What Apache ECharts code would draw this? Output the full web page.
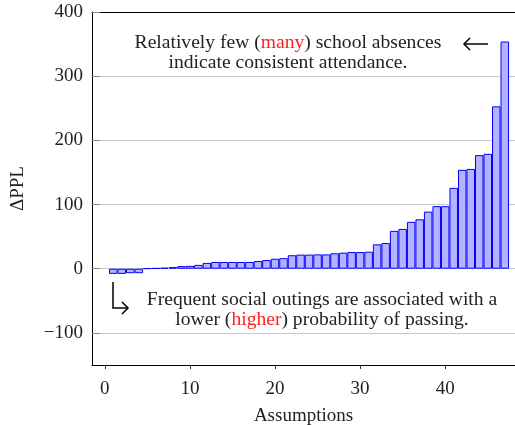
<!DOCTYPE html>
<html>
<head>
<meta charset="utf-8">
<script src="https://cdn.jsdelivr.net/npm/echarts@6/dist/echarts.min.js"></script>
<style>html,body{margin:0;padding:0;background:#fff}#c{width:515px;height:425px}</style>
</head>
<body>
<div id="c"></div>
<script>
const assumptions = [1,2,3,4,5,6,7,8,9,10,11,12,13,14,15,16,17,18,19,20,21,22,23,24,25,26,27,28,29,30,31,32,33,34,35,36,37,38,39,40,41,42,43,44,45,46,47];
const deltaPPL = [-8,-8,-7,-7,0.5,1,1.5,2.5,4,4.5,6,9,10.5,10.5,10.5,10.5,10.5,12,13.5,15.5,16.5,21,22,22,22.3,22.3,24,25,26,26,26.5,38,40,59,62,73,77,89,97.5,97.5,126,154,155.5,177,179,253,354];
const yTicks = [-100,0,100,200,300,400];
const xTicks = [0,10,20,30,40];

const FONT = 'Liberation Serif';
const FS = 19;
const FA = 19.6;
const chart = echarts.init(document.getElementById('c'), null, {renderer:'canvas'});
const data = assumptions.map((a,i)=>[a, deltaPPL[i]]);
chart.setOption({
  animation:false,
  textStyle:{fontFamily:FONT},
  grid:{left:92, top:12, right:0, bottom:60, show:false, containLabel:false, outerBoundsMode:'none'},
  xAxis:[{
    type:'value', min:-1.5, max:48.2,
    axisLine:{show:true, onZero:false, lineStyle:{color:'#000', width:1}},
    axisTick:{show:true, customValues:xTicks, inside:false, length:4, lineStyle:{color:'#333'}},
    axisLabel:{customValues:xTicks, fontFamily:FONT, fontSize:FS, color:'#222', margin:15},
    splitLine:{show:false},
    name:'Assumptions', nameLocation:'middle', nameGap:42,
    nameTextStyle:{fontFamily:FONT, fontSize:FS, color:'#222'}
  },{
    type:'value', position:'top', min:-1.5, max:48.2,
    axisLine:{show:true, onZero:false, lineStyle:{color:'#000', width:1}},
    axisTick:{show:false}, axisLabel:{show:false}, splitLine:{show:false}
  }],
  yAxis:{
    type:'value', min:-150, max:400,
    axisLine:{show:true, onZero:false, lineStyle:{color:'#000', width:1}},
    axisTick:{show:true, customValues:yTicks, inside:true, length:8, lineStyle:{color:'#888'}},
    axisLabel:{customValues:yTicks, fontFamily:FONT, fontSize:FS, color:'#222', margin:9,
      formatter:v=> v<0 ? '\u2212'+Math.abs(v) : String(v)},
    splitLine:{show:true, lineStyle:{color:'#c8c8c8', width:1}},
    name:'\u0394PPL', nameLocation:'middle', nameGap:64, nameRotate:90,
    nameTextStyle:{fontFamily:FONT, fontSize:FS, color:'#222'}
  },
  series:[{
    type:'bar', data:data, barWidth:'100%', xAxisIndex:0,
    itemStyle:{color:'#b3b3ff', borderColor:'#0000ff', borderWidth:1},
    silent:true
  }],
  graphic:[
    {type:'text', style:{
      x:288, y:33, align:'center', verticalAlign:'top', lineHeight:20,
      text:'Relatively few ({r|many}) school absences\nindicate consistent attendance.',
      fontFamily:FONT, fontSize:FA, fill:'#222',
      rich:{r:{fill:'#ff2020', fontFamily:FONT, fontSize:FA}}
    }},
    {type:'text', style:{
      x:322, y:290, align:'center', verticalAlign:'top', lineHeight:20,
      text:'Frequent social outings are associated with a\nlower ({r|higher}) probability of passing.',
      fontFamily:FONT, fontSize:FA, fill:'#222',
      rich:{r:{fill:'#ff2020', fontFamily:FONT, fontSize:FA}}
    }},
    {type:'line', shape:{x1:464, y1:44, x2:488, y2:44}, style:{stroke:'#000', lineWidth:1.5}},
    {type:'polyline', shape:{points:[[470,38],[464,44],[470,50]]}, style:{stroke:'#000', lineWidth:1.5, fill:null}},
    {type:'polyline', shape:{points:[[113,282],[113,308],[128,308]]}, style:{stroke:'#000', lineWidth:1.5, fill:null}},
    {type:'polyline', shape:{points:[[122,302],[128,308],[122,314]]}, style:{stroke:'#000', lineWidth:1.5, fill:null}}
  ]
});
</script>
</body>
</html>
